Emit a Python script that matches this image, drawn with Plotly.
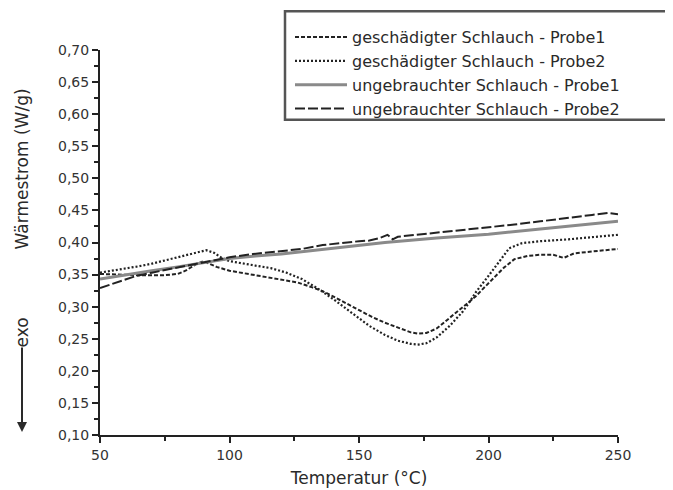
import plotly.graph_objects as go

# ---- data ----
series_names = [
    "geschädigter Schlauch - Probe1",
    "geschädigter Schlauch - Probe2",
    "ungebrauchter Schlauch - Probe1",
    "ungebrauchter Schlauch - Probe2",
]

t_dam1 = [50, 55, 60, 65, 70, 75, 80, 83, 87, 90, 95, 100, 110, 120, 126, 132, 136, 140, 145,
          150, 155, 160, 165, 170, 173, 176, 180, 185, 190, 193, 195, 200, 203, 206, 210, 215,
          220, 225, 229, 233, 240, 245, 250]
v_dam1 = [0.351, 0.350, 0.349, 0.349, 0.349, 0.349, 0.351, 0.356, 0.366, 0.371, 0.362, 0.356,
          0.349, 0.342, 0.338, 0.330, 0.324, 0.316, 0.305, 0.295, 0.284, 0.275, 0.267, 0.260,
          0.258, 0.259, 0.266, 0.282, 0.298, 0.309, 0.316, 0.337, 0.350, 0.361, 0.374, 0.379,
          0.381, 0.381, 0.376, 0.383, 0.386, 0.388, 0.390]

t_dam2 = [50, 55, 60, 65, 70, 75, 80, 85, 88, 91, 94, 97, 100, 105, 110, 116, 122, 128, 135,
          141, 148, 154, 160, 165, 170, 173, 176, 180, 185, 190, 193, 195, 200, 204, 208, 213,
          220, 231, 240, 250]
v_dam2 = [0.353, 0.356, 0.359, 0.363, 0.367, 0.372, 0.377, 0.383, 0.386, 0.388, 0.384, 0.376,
          0.371, 0.367, 0.364, 0.360, 0.353, 0.343, 0.326, 0.309, 0.288, 0.270, 0.256, 0.247,
          0.242, 0.241, 0.243, 0.252, 0.270, 0.292, 0.309, 0.322, 0.348, 0.370, 0.391, 0.399,
          0.402, 0.405, 0.408, 0.412]

t_new1 = [50, 60, 70, 80, 90, 100, 110, 120, 140, 160, 180, 200, 220, 240, 250]
v_new1 = [0.343, 0.350, 0.356, 0.362, 0.369, 0.375, 0.379, 0.382, 0.391, 0.400, 0.407, 0.413,
          0.421, 0.429, 0.433]

t_new2 = [50, 55, 60, 64, 70, 80, 90, 100, 109, 120, 128, 136, 144, 150, 154, 158, 161, 163,
          165, 170, 180, 190, 200, 210, 220, 231, 240, 246, 250]
v_new2 = [0.329, 0.336, 0.343, 0.348, 0.353, 0.361, 0.370, 0.377, 0.382, 0.386, 0.390, 0.396,
          0.400, 0.402, 0.403, 0.407, 0.412, 0.405, 0.409, 0.411, 0.415, 0.419, 0.423, 0.428,
          0.433, 0.438, 0.443, 0.446, 0.444]

x_ticks = [50, 100, 150, 200, 250]
y_ticks = [0.10, 0.15, 0.20, 0.25, 0.30, 0.35, 0.40, 0.45, 0.50, 0.55, 0.60, 0.65, 0.70]

# ---- figure ----
fig = go.Figure()
fig.add_trace(go.Scatter(x=t_dam1, y=v_dam1, mode="lines", name=series_names[0],
                         line=dict(color="#222222", width=2, dash="4px,2px")))
fig.add_trace(go.Scatter(x=t_dam2, y=v_dam2, mode="lines", name=series_names[1],
                         line=dict(color="#222222", width=2.2, dash="2px,2px")))
fig.add_trace(go.Scatter(x=t_new1, y=v_new1, mode="lines", name=series_names[2],
                         line=dict(color="#8a8a8a", width=3)))
fig.add_trace(go.Scatter(x=t_new2, y=v_new2, mode="lines", name=series_names[3],
                         line=dict(color="#222222", width=2, dash="10px,3px")))

font_main = "DejaVu Sans, Verdana, sans-serif"
W_PLOT = 518.0
H_PLOT = 387.0

fig.update_layout(
    width=665, height=482,
    margin=dict(l=92, r=55, t=40, b=55),
    paper_bgcolor="white", plot_bgcolor="white",
    separators=",.",
    font=dict(family=font_main, color="#2a2a2a", size=13),
    showlegend=True,
    legend=dict(x=(290 - 100) / W_PLOT, y=(435 - 18) / H_PLOT, xanchor="left", yanchor="top",
                bgcolor="rgba(0,0,0,0)", borderwidth=0,
                font=dict(size=16, color="#2a2a2a"),
                itemwidth=52, tracegroupgap=0),
    xaxis=dict(range=[50, 250], tickvals=x_ticks, ticks="outside", ticklen=6, tickwidth=2,
               tickcolor="#222", showline=True, linecolor="#222", linewidth=2,
               showgrid=False, zeroline=False, automargin=False,
               minor=dict(dtick=25, ticks="outside", ticklen=4, tickwidth=2, tickcolor="#222"),
               tickfont=dict(size=14, color="#333"),
               title=dict(text="Temperatur (°C)", font=dict(size=17, color="#2a2a2a"), standoff=10)),
    yaxis=dict(range=[0.10, 0.70], tickvals=y_ticks, tickformat=".2f", ticks="outside",
               ticklen=6, tickwidth=2, tickcolor="#222", showline=True, linecolor="#222",
               linewidth=2, showgrid=False, zeroline=False, automargin=False,
               minor=dict(dtick=0.025, ticks="outside", ticklen=4, tickwidth=2, tickcolor="#222"),
               tickfont=dict(size=14, color="#333")),
    shapes=[dict(type="rect", xref="paper", yref="paper",
                 x0=(285 - 100) / W_PLOT, x1=(668 - 100) / W_PLOT,
                 y0=(435 - 118) / H_PLOT, y1=(435 - 9) / H_PLOT,
                 line=dict(color="#555", width=2.5), fillcolor="rgba(0,0,0,0)")],
    annotations=[
        dict(text="Wärmestrom (W/g)", xref="paper", yref="paper",
             x=(22 - 100) / W_PLOT, y=(435 - 168) / H_PLOT, textangle=-90, showarrow=False,
             font=dict(size=17, color="#2a2a2a"), xanchor="center", yanchor="middle"),
        dict(text="exo", xref="paper", yref="paper",
             x=(22 - 100) / W_PLOT, y=(435 - 332) / H_PLOT, textangle=-90, showarrow=False,
             font=dict(size=17, color="#2a2a2a"), xanchor="center", yanchor="middle"),
        dict(text="", xref="paper", yref="paper",
             x=(22 - 100) / W_PLOT, y=(435 - 432) / H_PLOT, ax=0, ay=-86,
             showarrow=True, arrowhead=2, arrowsize=1, arrowwidth=2, arrowcolor="#2a2a2a"),
    ],
)

fig.write_html("out.html")
